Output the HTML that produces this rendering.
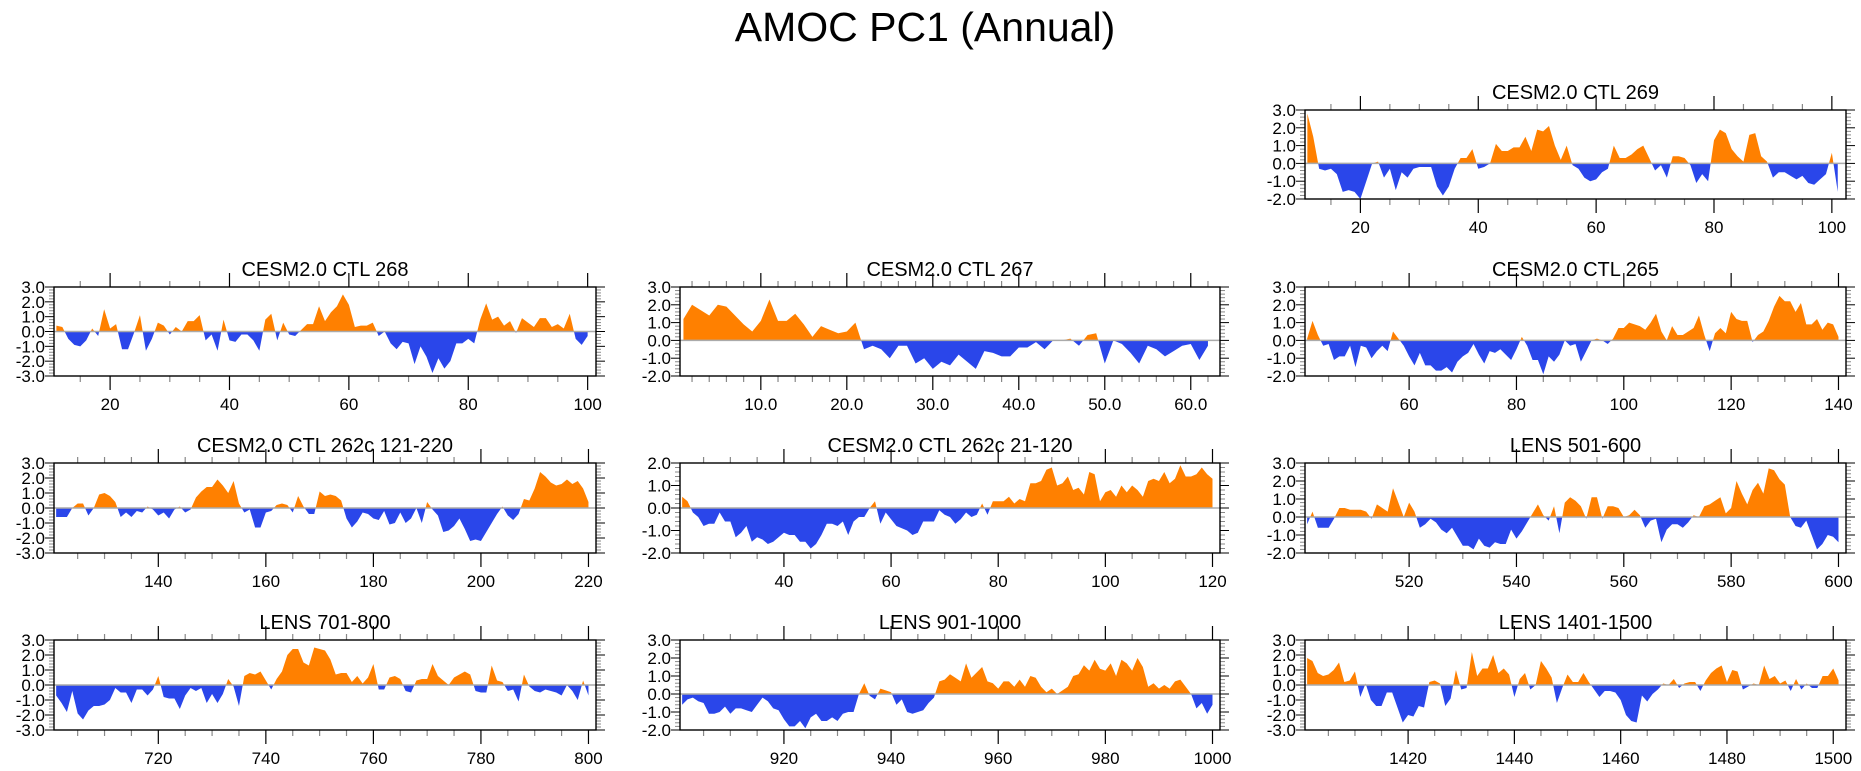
<!DOCTYPE html>
<html><head><meta charset="utf-8"><style>
html,body{margin:0;padding:0;background:#fff;}
svg{display:block;font-family:"Liberation Sans",Arial,sans-serif;}
</style></head><body>
<svg id="chart" width="1861" height="771" viewBox="0 0 1861 771">
<text x="925" y="41" font-size="41" text-anchor="middle" fill="#000">AMOC PC1 (Annual)</text>
</svg>
<script>
// ---- data ----
const vals269 = [2.8,1.5,-0.3,-0.4,-0.3,-0.6,-1.6,-1.5,-1.6,-2.0,-1.0,0.0,0.1,-0.8,-0.3,-1.5,-0.5,-0.8,-0.3,-0.2,-0.2,-0.2,-1.3,-1.8,-1.3,-0.3,0.3,0.3,0.8,-0.3,-0.2,0.0,1.1,0.7,0.7,0.9,0.9,1.5,0.7,1.9,1.8,2.1,1.0,0.2,1.0,-0.1,-0.3,-0.8,-1.0,-0.9,-0.5,-0.3,1.0,0.3,0.3,0.5,0.8,1.0,0.3,-0.4,-0.1,-0.8,0.4,0.4,0.3,-0.1,-1.1,-0.6,-1.0,1.3,1.9,1.7,0.8,0.4,0.1,1.6,1.7,0.4,0.1,-0.8,-0.5,-0.5,-0.7,-0.9,-0.7,-1.1,-1.2,-0.9,-0.6,0.6,-1.6];
const vals268 = [0.4,0.3,-0.5,-0.9,-1.0,-0.6,0.2,-0.3,1.5,0.2,0.5,-1.2,-1.2,-0.1,1.1,-1.3,-0.5,0.6,0.4,-0.2,0.3,0.0,0.7,0.7,1.1,-0.6,-0.2,-1.3,0.8,-0.6,-0.7,-0.2,-0.2,-0.6,-1.3,0.8,1.2,-0.6,0.6,-0.2,-0.3,0.1,0.5,0.5,1.7,0.7,1.3,1.7,2.5,1.8,0.3,0.4,0.4,0.6,-0.3,0.0,-0.8,-1.2,-0.7,-0.8,-2.2,-1.0,-1.7,-2.8,-1.8,-2.5,-2.0,-0.8,-0.8,-0.5,-0.8,0.8,1.9,0.8,1.0,0.4,0.7,-0.1,0.9,0.6,0.3,0.9,0.9,0.3,0.5,0.2,1.2,-0.5,-0.9,-0.3];
const vals267 = [1.2,2.0,1.7,1.4,2.0,1.9,1.4,0.9,0.5,1.1,2.3,1.1,1.1,1.5,0.9,0.2,0.8,0.6,0.4,0.5,1.0,-0.5,-0.3,-0.5,-1.0,-0.3,-0.3,-1.3,-1.0,-1.6,-1.2,-1.4,-0.8,-1.2,-1.6,-0.6,-0.7,-0.9,-0.9,-0.4,-0.4,-0.1,-0.5,0.0,0.0,0.1,-0.3,0.3,0.4,-1.3,0.0,-0.2,-0.7,-1.3,-0.3,-0.5,-0.9,-0.6,-0.3,-0.2,-1.1,-0.3];
const vals265 = [0.1,1.1,0.3,-0.3,-0.2,-1.1,-0.9,-0.9,-0.3,-1.5,-0.3,-0.4,-1.0,-0.6,-0.3,-0.6,0.5,0.1,-0.3,-0.9,-1.4,-0.7,-1.4,-1.4,-1.7,-1.7,-1.5,-1.8,-1.2,-0.9,-0.7,-0.2,-0.8,-1.3,-0.6,-0.7,-0.5,-0.8,-1.1,-0.5,0.2,-0.3,-1.1,-1.1,-1.9,-0.9,-1.2,-0.8,0.0,-0.3,-0.2,-1.2,-0.6,0.0,0.1,0.0,-0.2,0.1,0.7,0.7,1.0,0.9,0.8,0.6,1.0,1.5,0.5,0.0,0.8,0.3,0.3,0.5,0.7,1.4,0.3,-0.6,0.4,0.7,0.4,1.6,1.2,1.1,1.1,-0.1,0.3,0.5,1.1,1.9,2.5,2.2,2.2,1.6,2.1,0.9,0.9,1.2,0.6,1.0,0.9,0.2];
const vals262a = [-0.6,-0.6,-0.6,0.0,0.3,0.3,-0.5,0.0,0.9,1.0,0.8,0.4,-0.6,-0.3,-0.6,-0.2,-0.3,0.1,-0.1,-0.5,-0.3,-0.7,-0.1,0.1,-0.3,-0.1,0.7,1.1,1.4,1.4,1.9,1.5,1.0,1.8,0.3,-0.3,-0.1,-1.3,-1.3,-0.3,-0.2,0.2,0.3,0.2,-0.3,0.8,0.1,-0.4,-0.4,1.1,0.8,0.9,0.8,0.5,-0.7,-1.3,-0.9,-0.3,-0.4,-0.7,-0.8,-0.2,-1.1,-1.0,-0.3,-1.0,-0.7,0.0,-1.0,0.4,-0.1,-0.5,-1.6,-1.5,-1.2,-0.7,-1.4,-2.2,-2.1,-2.2,-1.6,-1.0,-0.4,0.1,-0.5,-0.8,-0.4,0.6,0.5,1.3,2.4,2.1,1.7,1.5,1.6,1.9,1.6,1.8,1.3,0.4];
const vals262b = [0.5,0.3,-0.2,-0.4,-0.8,-0.7,-0.7,-0.2,-0.6,-0.6,-1.3,-1.1,-0.8,-1.5,-1.3,-1.4,-1.6,-1.5,-1.3,-1.1,-1.2,-1.2,-1.5,-1.5,-1.8,-1.6,-1.2,-0.7,-0.7,-0.8,-0.6,-1.2,-0.6,-0.4,-0.4,0.0,0.3,-0.7,-0.2,-0.5,-0.8,-0.9,-1.0,-1.2,-1.1,-0.6,-0.6,-0.6,-0.1,-0.3,-0.4,-0.7,-0.5,-0.2,-0.4,-0.3,0.2,-0.3,0.3,0.3,0.3,0.5,0.2,0.4,0.3,1.1,1.1,1.2,1.7,1.8,1.0,1.1,1.4,0.8,0.9,0.6,1.6,1.5,0.3,0.7,0.8,0.5,1.0,0.7,1.0,0.8,0.5,1.2,1.3,1.2,1.6,1.1,1.3,1.9,1.4,1.4,1.5,1.8,1.5,1.3];
const vals501 = [-0.4,0.3,-0.6,-0.6,-0.6,-0.1,0.5,0.5,0.4,0.4,0.4,0.3,-0.1,0.7,0.5,0.3,1.6,0.8,0.0,0.8,0.3,-0.6,-0.4,-0.1,-0.3,-0.7,-0.9,-0.6,-1.1,-1.6,-1.6,-1.8,-1.2,-1.6,-1.7,-1.4,-1.5,-1.5,-0.7,-1.2,-0.8,-0.3,0.2,0.7,0.1,-0.2,0.6,-0.9,0.8,1.1,0.9,0.6,-0.1,1.1,1.1,-0.1,0.6,0.6,0.5,0.0,0.1,0.4,0.1,-0.6,-0.2,-0.1,-1.4,-0.7,-0.4,-0.4,-0.6,-0.3,0.1,0.0,0.6,0.7,0.9,1.1,0.2,0.5,2.0,1.3,0.7,1.5,1.9,1.3,2.7,2.6,2.1,1.8,0.0,-0.5,-0.6,-0.2,-1.0,-1.8,-1.5,-1.0,-1.1,-1.4];
const vals701 = [-0.7,-1.2,-1.8,-0.4,-1.9,-2.3,-1.7,-1.4,-1.4,-1.3,-1.0,-0.2,-0.5,-0.5,-1.2,-0.3,-0.3,-0.7,-0.3,0.6,-0.8,-0.9,-0.9,-1.6,-0.7,-0.2,-0.4,-0.2,-1.2,-0.6,-1.2,-0.6,0.4,-0.1,-1.4,0.6,0.8,0.7,0.9,0.3,-0.3,0.4,0.9,2.0,2.4,2.4,1.5,1.3,2.5,2.4,2.3,1.7,0.7,0.8,0.8,0.2,0.6,0.1,0.5,1.4,-0.3,-0.3,0.5,0.6,0.4,-0.4,-0.5,0.3,0.4,0.4,1.4,0.6,0.3,0.0,0.5,0.7,0.9,0.7,-0.4,-0.5,-0.5,1.3,0.3,0.2,-0.4,-0.3,-1.1,0.7,-0.1,-0.4,-0.5,-0.3,-0.4,-0.5,-0.7,0.0,-0.4,-1.0,0.3,-0.7];
const vals901 = [-0.6,-0.3,-0.2,-0.4,-0.5,-1.1,-1.1,-1.0,-0.7,-1.1,-0.8,-0.8,-0.9,-1.0,-0.6,-0.2,-0.4,-0.8,-0.9,-1.4,-1.8,-1.8,-1.5,-1.9,-1.3,-1.1,-1.5,-1.5,-1.3,-1.5,-1.1,-1.0,-1.0,0.0,0.6,-0.1,-0.3,0.3,0.2,0.1,-0.6,-0.3,-1.0,-1.1,-1.0,-0.9,-0.5,-0.2,0.7,0.8,1.1,0.9,0.7,1.7,0.9,1.2,1.5,0.7,0.6,0.3,0.7,0.7,0.4,0.8,0.4,1.0,0.9,0.4,0.1,0.3,0.0,0.2,0.4,1.0,1.1,1.6,1.3,1.9,1.4,1.3,1.7,1.0,1.9,1.7,1.3,2.0,1.5,0.4,0.6,0.3,0.5,0.3,0.7,0.8,0.4,0.0,-0.8,-0.5,-1.1,-0.6];
const vals1401 = [1.8,1.6,0.8,0.6,0.7,1.0,1.5,0.2,0.3,0.9,-0.8,0.1,-1.0,-1.4,-1.4,-0.5,-0.5,-1.5,-2.5,-2.0,-2.1,-1.4,-1.5,0.2,0.3,0.1,-1.4,-0.9,1.0,-0.3,-0.2,2.2,0.6,1.1,1.1,2.0,0.8,1.1,0.7,-0.8,0.4,0.8,-0.3,0.0,1.6,1.1,0.5,-1.2,-0.2,0.7,0.2,0.2,0.8,0.2,-0.3,-0.8,-0.4,-0.4,-0.5,-1.0,-2.0,-2.4,-2.5,-0.7,-1.1,-0.6,-0.3,0.1,0.0,0.4,-0.2,0.1,0.2,0.2,-0.4,0.3,0.8,1.1,1.3,0.2,1.0,0.9,-0.3,-0.1,0.1,0.0,1.3,0.4,0.6,0.1,0.3,-0.4,0.4,-0.3,0.1,-0.2,-0.2,0.6,0.6,1.1,0.3];
const startYears = [11, 11, 1, 41, 121, 21, 501, 701, 901, 1401];
const panelTitles = ["CESM2.0 CTL 269","CESM2.0 CTL 268","CESM2.0 CTL 267","CESM2.0 CTL 265","CESM2.0 CTL 262c 121-220","CESM2.0 CTL 262c 21-120","LENS 501-600","LENS 701-800","LENS 901-1000","LENS 1401-1500"];
const xTickLabels = [[20,40,60,80,100],[20,40,60,80,100],[10,20,30,40,50,60],[60,80,100,120,140],[140,160,180,200,220],[40,60,80,100,120],[520,540,560,580,600],[720,740,760,780,800],[920,940,960,980,1000],[1420,1440,1460,1480,1500]];
const yMins = [-2,-3,-2,-2,-3,-2,-2,-3,-2,-3];
const yMaxs = [3,3,3,3,3,2,3,3,3,3];
const allVals = [vals269,vals268,vals267,vals265,vals262a,vals262b,vals501,vals701,vals901,vals1401];

// ---- layout (not data) ----
const colX = [[54,596],[680,1220],[1305,1846]];
const rowY = [[110,199],[287,376],[463,553],[640,730]];
const slots = [[0,2],[1,0],[1,1],[1,2],[2,0],[2,1],[2,2],[3,0],[3,1],[3,2]];
const NS = "http://www.w3.org/2000/svg";
const svg = document.getElementById('chart');
function mk(tag, attrs, parent){
  const e = document.createElementNS(NS, tag);
  for (const k in attrs) e.setAttribute(k, attrs[k]);
  (parent||svg).appendChild(e);
  return e;
}
const ORANGE = "#ff8000", BLUE = "#2a46ea";

allVals.forEach((vals, p) => {
  const [r, c] = slots[p];
  const L = colX[c][0], R = colX[c][1], T = rowY[r][0], B = rowY[r][1];
  const x0 = startYears[p] - 0.4, x1 = startYears[p] + vals.length - 1 + 1.4;
  const ymin = yMins[p], ymax = yMaxs[p];
  const sx = v => L + (v - x0) / (x1 - x0) * (R - L);
  const sy = v => B - (v - ymin) / (ymax - ymin) * (B - T);
  const g = mk('g', {});
  
  

  const t = mk('text', {x:(L+R)/2, y:T-11, 'font-size':20, 'text-anchor':'middle', fill:'#000'}, g);
  t.textContent = panelTitles[p];
  
  

  const y0 = sy(0);
  const defs = mk('defs', {}, g);
  const cpA = mk('clipPath', {id:'ca'+p}, defs);
  mk('rect', {x:L, y:T, width:R-L, height:y0-T}, cpA);
  const cpB = mk('clipPath', {id:'cb'+p}, defs);
  mk('rect', {x:L, y:y0, width:R-L, height:B-y0}, cpB);

  let d = 'M' + sx(startYears[p]) + ',' + y0;
  vals.forEach((v, i) => { d += ' L' + sx(startYears[p] + i).toFixed(2) + ',' + sy(v).toFixed(2); });
  d += ' L' + sx(startYears[p] + vals.length - 1) + ',' + y0 + ' Z';
  const pa = mk('path', {d:d, fill:ORANGE, 'clip-path':'url(#ca'+p+')'}, g);
  
  
  const pb = mk('path', {d:d, fill:BLUE, 'clip-path':'url(#cb'+p+')'}, g);
  
  

  const zl = mk('line', {x1:L, x2:R, y1:y0, y2:y0, stroke:'#aaa', 'stroke-width':1.5}, g);
  
  

  for (let k = Math.round(ymin*5); k <= Math.round(ymax*5); k++) {
    const v = k / 5, yy = sy(v), major = (k % 5 === 0);
    const len = major ? 9 : 5;
    mk('line', {x1:L-len, x2:L, y1:yy, y2:yy, stroke: major?'#000':'#888', 'stroke-width':1}, g);
    mk('line', {x1:R, x2:R+len, y1:yy, y2:yy, stroke: major?'#000':'#888', 'stroke-width':1}, g);
    if (major) {
      const yl = mk('text', {x:L-9, y:yy+6, 'font-size':17, 'text-anchor':'end', fill:'#000'}, g);
      yl.textContent = v.toFixed(1);
      
      
    }
  }
  const minorStep = (p === 2) ? 2 : 5;
  for (let v = Math.ceil(x0/minorStep)*minorStep; v <= x1; v += minorStep) {
    const xx = sx(v);
    const major = xTickLabels[p].indexOf(v) >= 0;
    const len = major ? 14 : 6;
    mk('line', {x1:xx, x2:xx, y1:T-len, y2:T, stroke: major?'#000':'#888', 'stroke-width':1.2}, g);
    mk('line', {x1:xx, x2:xx, y1:B, y2:B+len, stroke: major?'#000':'#888', 'stroke-width':1.2}, g);
  }
  xTickLabels[p].forEach(v => {
    const xl = mk('text', {x:sx(v), y:B+34, 'font-size':17, 'text-anchor':'middle', fill:'#000'}, g);
    xl.textContent = (p === 2) ? v.toFixed(1) : String(v);
    
    
  });

  const fr = mk('rect', {x:L, y:T, width:R-L, height:B-T, fill:'none', stroke:'#000', 'stroke-width':1.4}, g);
  
  
});
</script>
</body></html>
